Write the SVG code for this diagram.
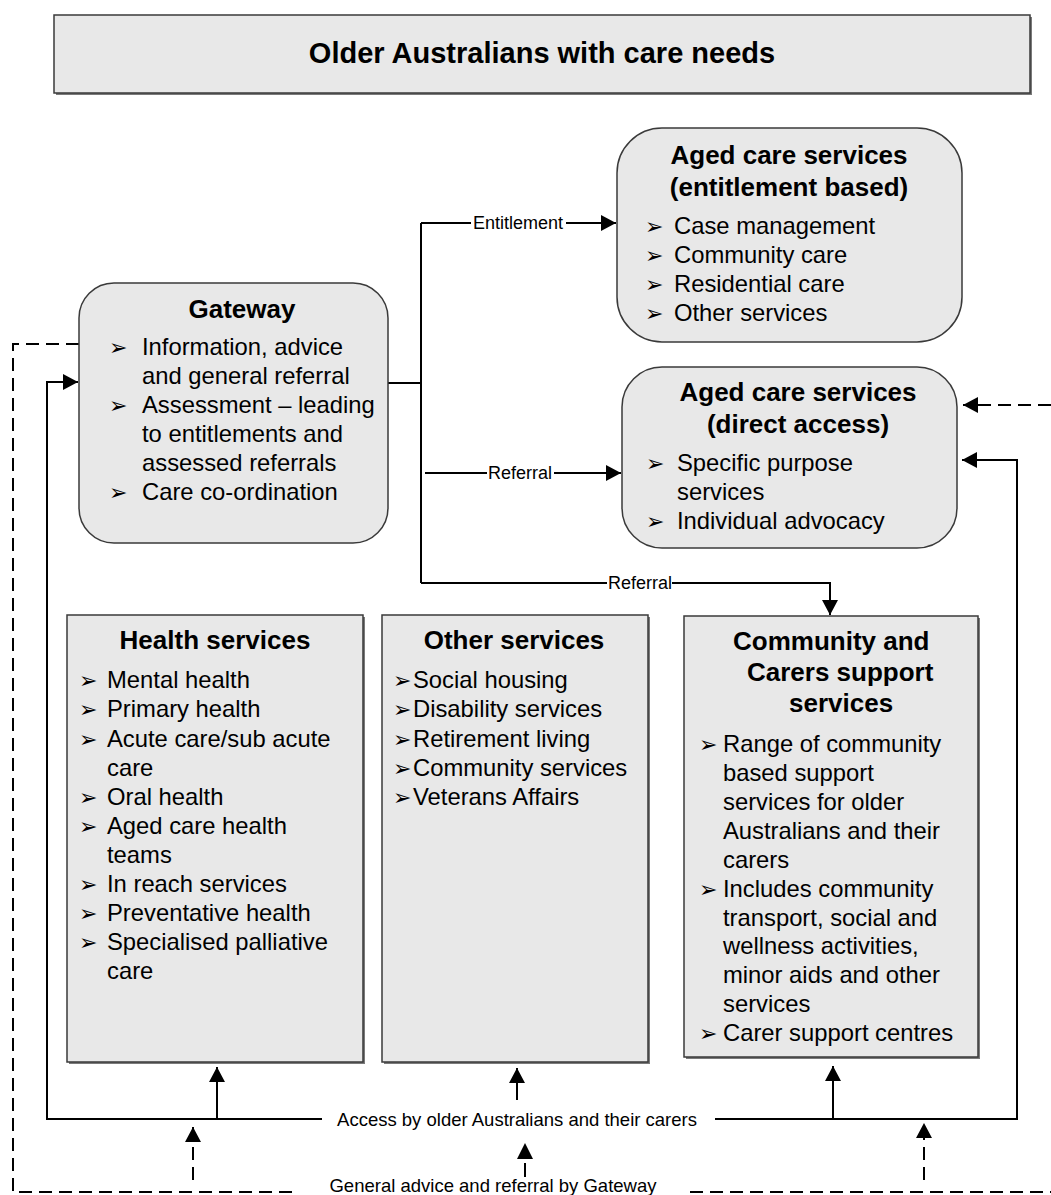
<svg xmlns="http://www.w3.org/2000/svg" width="1051" height="1195" viewBox="0 0 1051 1195">
<defs>
<marker id="ah" markerUnits="userSpaceOnUse" markerWidth="16" markerHeight="16" refX="15" refY="8" orient="auto">
<path d="M0,0 L15,8 L0,16 z" fill="#000"/>
</marker>
</defs>
<style>
text{font-family:"Liberation Sans",Arial,sans-serif;fill:#000}
.box{fill:#e8e8e8;stroke:#3a3a3a;stroke-width:1.5}
.shadow{fill:#7a7a7a}
.h{font-weight:bold;font-size:26px}
.b{font-size:23.8px}
.bl{font-family:"DejaVu Sans",sans-serif;font-size:22px}
.lab{font-size:18px}
.lab2{font-size:18.5px}
.ln{fill:none;stroke:#000;stroke-width:2}
.dash{fill:none;stroke:#000;stroke-width:2;stroke-dasharray:13 7}
.arr{marker-end:url(#ah)}
</style>
<rect width="1051" height="1195" fill="#fff"/>

<g id="title">
<rect class="shadow" x="56" y="17" width="976" height="78"/>
<rect class="box" x="54" y="15" width="976" height="78"/>
<text x="542" y="63" text-anchor="middle" font-weight="bold" font-size="29px">Older Australians with care needs</text>
</g>

<g id="connectors">
<path class="ln" d="M388,383 H421"/>
<path class="ln" d="M421,223 V583"/>
<path class="ln" d="M421,223 H471"/>
<path class="ln arr" d="M566,223 H616"/>
<path class="ln" d="M425,473 H487"/>
<path class="ln arr" d="M554,473 H621"/>
<path class="ln" d="M421,583 H607"/>
<path class="ln arr" d="M672,583 H830 V615"/>
<path class="ln arr" d="M322,1119 H47 V382 H78"/>
<path class="ln arr" d="M715,1119 H1017 V460 H962"/>
<path class="ln arr" d="M217,1119 V1067"/>
<path class="ln arr" d="M517,1100 V1068"/>
<path class="ln arr" d="M833,1119 V1066"/>
<path class="dash" d="M79,344 H13 V1192 H297"/>
<path class="dash" d="M690,1192 H1051"/>
<path class="dash arr" d="M1051,405 H963"/>
<path class="dash arr" d="M193,1180 V1127"/>
<path class="ln" d="M525,1163 V1177"/>
<path d="M517,1159 L525,1143 L533,1159 z" fill="#000"/>
<path class="dash arr" d="M924,1180 V1123"/>
<text class="lab" x="518" y="229" text-anchor="middle">Entitlement</text>
<text class="lab" x="520" y="479" text-anchor="middle">Referral</text>
<text class="lab" x="640" y="589" text-anchor="middle">Referral</text>
<text class="lab2" x="517" y="1126" text-anchor="middle">Access by older Australians and their carers</text>
<text class="lab2" x="493" y="1192" text-anchor="middle">General advice and referral by Gateway</text>
</g>

<g id="gateway">
<rect class="box" x="79" y="283" width="309" height="260" rx="35" ry="35"/>
<text class="h" x="242" y="318" text-anchor="middle">Gateway</text>
<text class="bl" x="109" y="355">➢</text>
<text class="b" x="142" y="355">Information, advice</text>
<text class="b" x="142" y="384">and general referral</text>
<text class="bl" x="109" y="413">➢</text>
<text class="b" x="142" y="413">Assessment – leading</text>
<text class="b" x="142" y="442">to entitlements and</text>
<text class="b" x="142" y="471">assessed referrals</text>
<text class="bl" x="109" y="500">➢</text>
<text class="b" x="142" y="500">Care co-ordination</text>
</g>

<g id="aged-entitlement">
<rect class="box" x="617" y="128" width="345" height="214" rx="45" ry="45"/>
<text class="h" x="789" y="164" text-anchor="middle">Aged care services</text>
<text class="h" x="789" y="196" text-anchor="middle">(entitlement based)</text>
<text class="bl" x="645" y="234">➢</text>
<text class="b" x="674" y="234">Case management</text>
<text class="bl" x="645" y="263">➢</text>
<text class="b" x="674" y="263">Community care</text>
<text class="bl" x="645" y="292">➢</text>
<text class="b" x="674" y="292">Residential care</text>
<text class="bl" x="645" y="321">➢</text>
<text class="b" x="674" y="321">Other services</text>
</g>

<g id="aged-direct">
<rect class="box" x="622" y="367" width="335" height="181" rx="40" ry="40"/>
<text class="h" x="798" y="401" text-anchor="middle">Aged care services</text>
<text class="h" x="798" y="433" text-anchor="middle">(direct access)</text>
<text class="bl" x="646" y="471">➢</text>
<text class="b" x="677" y="471">Specific purpose</text>
<text class="b" x="677" y="500">services</text>
<text class="bl" x="646" y="529">➢</text>
<text class="b" x="677" y="529">Individual advocacy</text>
</g>

<g id="health">
<rect class="shadow" x="69" y="617" width="296" height="447"/>
<rect class="box" x="67" y="615" width="296" height="447"/>
<text class="h" x="215" y="649" text-anchor="middle">Health services</text>
<text class="bl" x="79" y="688">➢</text><text class="b" x="107" y="688">Mental health</text>
<text class="bl" x="79" y="717">➢</text><text class="b" x="107" y="717">Primary health</text>
<text class="bl" x="79" y="747">➢</text><text class="b" x="107" y="747">Acute care/sub acute</text>
<text class="b" x="107" y="776">care</text>
<text class="bl" x="79" y="805">➢</text><text class="b" x="107" y="805">Oral health</text>
<text class="bl" x="79" y="834">➢</text><text class="b" x="107" y="834">Aged care health</text>
<text class="b" x="107" y="863">teams</text>
<text class="bl" x="79" y="892">➢</text><text class="b" x="107" y="892">In reach services</text>
<text class="bl" x="79" y="921">➢</text><text class="b" x="107" y="921">Preventative health</text>
<text class="bl" x="79" y="950">➢</text><text class="b" x="107" y="950">Specialised palliative</text>
<text class="b" x="107" y="979">care</text>
</g>

<g id="other">
<rect class="shadow" x="384" y="617" width="266" height="447"/>
<rect class="box" x="382" y="615" width="266" height="447"/>
<text class="h" x="514" y="649" text-anchor="middle">Other services</text>
<text class="bl" x="393" y="688">➢</text><text class="b" x="413" y="688">Social housing</text>
<text class="bl" x="393" y="717">➢</text><text class="b" x="413" y="717">Disability services</text>
<text class="bl" x="393" y="747">➢</text><text class="b" x="413" y="747">Retirement living</text>
<text class="bl" x="393" y="776">➢</text><text class="b" x="413" y="776">Community services</text>
<text class="bl" x="393" y="805">➢</text><text class="b" x="413" y="805">Veterans Affairs</text>
</g>

<g id="carers">
<rect class="shadow" x="686" y="618" width="294" height="441"/>
<rect class="box" x="684" y="616" width="294" height="441"/>
<text class="h" x="733" y="650">Community and</text>
<text class="h" x="747" y="681">Carers support</text>
<text class="h" x="789" y="712">services</text>
<text class="bl" x="699" y="752">➢</text><text class="b" x="723" y="752">Range of community</text>
<text class="b" x="723" y="781">based support</text>
<text class="b" x="723" y="810">services for older</text>
<text class="b" x="723" y="839">Australians and their</text>
<text class="b" x="723" y="868">carers</text>
<text class="bl" x="699" y="897">➢</text><text class="b" x="723" y="897">Includes community</text>
<text class="b" x="723" y="926">transport, social and</text>
<text class="b" x="723" y="954">wellness activities,</text>
<text class="b" x="723" y="983">minor aids and other</text>
<text class="b" x="723" y="1012">services</text>
<text class="bl" x="699" y="1041">➢</text><text class="b" x="723" y="1041">Carer support centres</text>
</g>
</svg>
